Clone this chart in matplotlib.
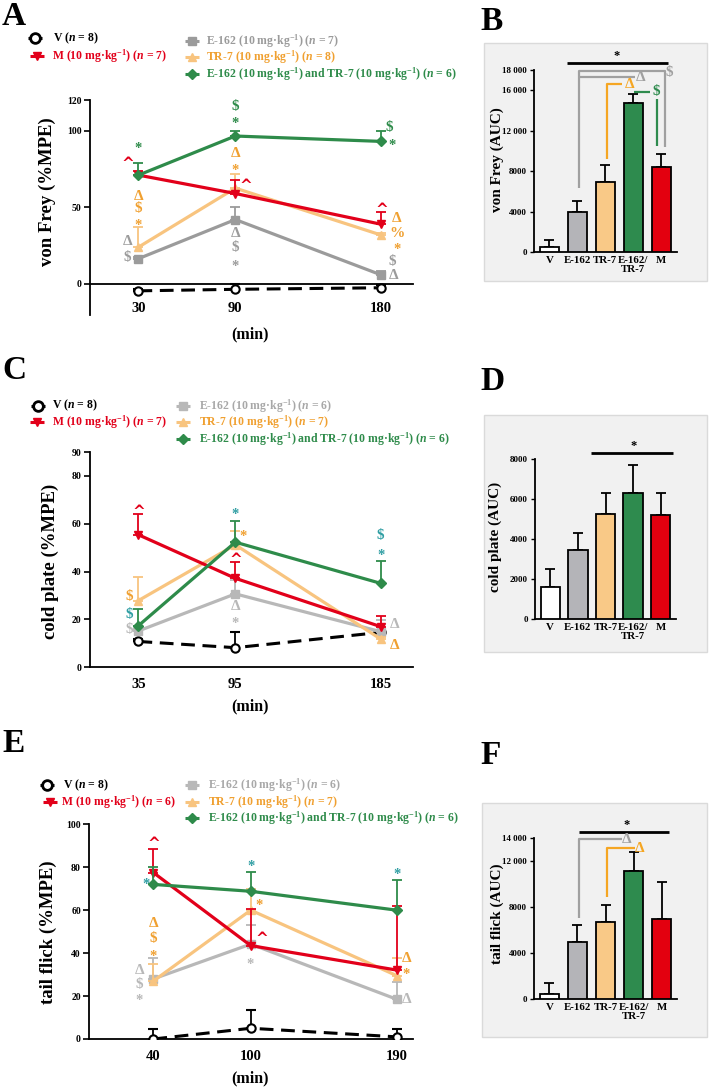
import matplotlib
matplotlib.use('Agg')
import matplotlib.pyplot as plt
from matplotlib.patches import Rectangle
import numpy as np

plt.rcParams['font.family'] = ['Liberation Serif', 'DejaVu Serif']
plt.rcParams['font.weight'] = 'bold'
plt.rcParams['mathtext.fontset'] = 'custom'
plt.rcParams['mathtext.rm'] = 'Liberation Serif:bold'
plt.rcParams['mathtext.it'] = 'Liberation Serif:italic:bold'
plt.rcParams['mathtext.bf'] = 'Liberation Serif:bold'
plt.rcParams['axes.linewidth'] = 1.3

# ---------------- data ----------------
times_A = [30, 90, 180]
vf_V = [-4.5, -3.5, -2.5];   vf_V_err = [1.0, 3.5, 1.5]
vf_M = [71, 59, 39];         vf_M_err = [3, 9, 8]
vf_E = [16.5, 42, 6];        vf_E_err = [1, 8.5, 2.5]
vf_T = [24, 62.5, 32];       vf_T_err = [13, 9.5, 1.5]
vf_C = [71, 96.5, 93];       vf_C_err = [8, 3.5, 7]

times_C = [35, 95, 185]
cp_V = [10.8, 8.2, 14.6];    cp_V_err = [1, 6.7, 1]
cp_M = [55.4, 37.2, 17];     cp_M_err = [8.6, 7, 4.6]
cp_E = [15.2, 30.7, 14.9];   cp_E_err = [1, 5.8, 5]
cp_T = [27.9, 51.2, 11.8];   cp_T_err = [9.8, 5.8, 1]
cp_C = [17.4, 52.3, 35.1];   cp_C_err = [7, 9, 9.5]

times_E = [40, 100, 190]
tf_V = [0, 5, 1];            tf_V_err = [4.8, 8.4, 3.5]
tf_M = [77.5, 43.5, 32.1];   tf_M_err = [11, 17.2, 30]
tf_E = [28, 44.2, 18.5];     tf_E_err = [9.6, 8.8, 7.9]
tf_T = [27, 60, 29.5];       tf_T_err = [8, 10, 8.4]
tf_C = [72, 68.8, 60];       tf_C_err = [8.3, 9.2, 14]

bar_groups = ['V', 'E-162', 'TR-7', 'E-162/\nTR-7', 'M']
auc_vf = [450, 3950, 6950, 14700, 8400];   auc_vf_err = [770, 1090, 1620, 930, 1290]
auc_cp = [1600, 3480, 5280, 6300, 5220];   auc_cp_err = [900, 840, 1060, 1420, 1110]
auc_tf = [430, 4990, 6670, 11110, 6950];   auc_tf_err = [1010, 1470, 1470, 1620, 3210]

legend_A = ['V ($n$ = 8)', 'M (10 mg·kg$^{-1}$) ($n$ = 7)', 'E-162 (10 mg·kg$^{-1}$) ($n$ = 7)',
            'TR-7 (10 mg·kg$^{-1}$) ($n$ = 8)', 'E-162 (10 mg·kg$^{-1}$) and TR-7 (10 mg·kg$^{-1}$) ($n$ = 6)']
legend_C = ['V ($n$ = 8)', 'M (10 mg·kg$^{-1}$) ($n$ = 7)', 'E-162 (10 mg·kg$^{-1}$) ($n$ = 6)',
            'TR-7 (10 mg·kg$^{-1}$) ($n$ = 7)', 'E-162 (10 mg·kg$^{-1}$) and TR-7 (10 mg·kg$^{-1}$) ($n$ = 6)']
legend_E = ['V ($n$ = 8)', 'M (10 mg·kg$^{-1}$) ($n$ = 6)', 'E-162 (10 mg·kg$^{-1}$) ($n$ = 6)',
            'TR-7 (10 mg·kg$^{-1}$) ($n$ = 7)', 'E-162 (10 mg·kg$^{-1}$) and TR-7 (10 mg·kg$^{-1}$) ($n$ = 6)']

# significance annotations (x, y, symbol, colour key)
ann_A = [(30, 91, '*', 'green'), (23.5, 81, '^', 'red'),
         (30, 57, 'Δ', 'orange'), (30, 49, r'\$', 'orange'), (30, 41, '*', 'orange'),
         (23, 28, 'Δ', 'grey'), (23, 17, r'\$', 'grey'),
         (90, 116, r'\$', 'green'), (90, 107.5, '*', 'green'),
         (90, 85, 'Δ', 'orange'), (90, 77, '*', 'orange'), (96.5, 67, '^', 'red'),
         (90, 33, 'Δ', 'grey'), (90, 24, r'\$', 'grey'), (90, 14, '*', 'grey'),
         (185, 102, r'\$', 'green'), (187, 93, '*', 'green'), (181, 51, '^', 'red'),
         (190, 42.5, 'Δ', 'orange'), (190, 33, '%', 'orange'), (190, 25, '*', 'orange'),
         (187, 14.6, r'\$', 'grey'), (188, 5.4, 'Δ', 'grey')]
ann_C = [(35, 67, '^', 'red'),
         (29.6, 29.5, r'\$', 'orange'), (29.6, 21.9, r'\$', 'teal'), (29.6, 15.6, r'\$', 'grey'),
         (95, 65.5, '*', 'teal'), (100, 56.3, '*', 'orange'), (95, 46.7, '^', 'red'),
         (95, 25.4, 'Δ', 'grey'), (95, 20.2, '*', 'grey'),
         (185, 55, r'\$', 'teal'), (185, 48.4, '*', 'teal'),
         (193.6, 17.7, 'Δ', 'grey'), (193.6, 9.3, 'Δ', 'orange')]
ann_E = [(40, 93, '^', 'red'), (35.3, 74, '*', 'teal'),
         (40, 53.9, 'Δ', 'orange'), (40, 46.9, r'\$', 'orange'), (40, 40.2, '*', 'orange'),
         (31.4, 32, 'Δ', 'grey'), (31.4, 25.6, r'\$', 'grey'), (31.4, 19.7, '*', 'grey'),
         (100, 82.3, '*', 'teal'), (105.4, 64, '*', 'orange'), (106.9, 48.8, '^', 'red'),
         (99.7, 36.8, '*', 'grey'),
         (190, 78.4, '*', 'teal'), (195.8, 37.6, 'Δ', 'orange'), (195.8, 31.8, '*', 'orange'),
         (195.8, 18.2, 'Δ', 'grey')]

sig_B_lines = [([0.63, 4.24], [18660, 18660], 'black'),
               ([1.07, 1.07, 4.14, 4.14], [6300, 17930, 17930, 10400], 'grey'),
               ([1.07, 3.07], [17270, 17270], 'grey'),
               ([2.06, 2.06, 2.6], [9170, 16580, 16580], 'orange'),
               ([3.04, 3.6], [15850, 15850], 'green'),
               ([3.86, 3.86], [15130, 10480], 'green')]
sig_B_text = [(2.4, 19400, '*', 'black'), (4.28, 17800, r'\$', 'grey'), (3.26, 17270, 'Δ', 'grey'),
              (2.88, 16580, 'Δ', 'orange'), (3.83, 15850, r'\$', 'green')]
sig_D_lines = [([1.49, 4.43], [8300, 8300], 'black')]
sig_D_text = [(3.0, 8650, '*', 'black')]
sig_F_lines = [([1.06, 4.25], [14510, 14510], 'black'),
               ([1.04, 1.04, 2.58], [7070, 13860, 13860], 'grey'),
               ([2.05, 2.05, 3.06], [8830, 13070, 13070], 'orange')]
sig_F_text = [(2.74, 15050, '*', 'black'), (2.76, 13860, 'Δ', 'grey'), (3.2, 13070, 'Δ', 'orange')]

# ---------------- style ----------------
RED = '#e2001a'
GREEN = '#2e8b4a'
ORANGE_LINE = '#f8c47f'
ORANGE_TXT = '#f0a030'
TEAL = '#2f9ea3'
GREY_A = '#9b9b9b'
GREY_L = '#b8b8b8'
BAR_COLORS = ['white', '#b4b4b8', '#f9c987', '#2e8b4e', '#e3000f']

W, H = 709, 1088
fig = plt.figure(figsize=(W / 100, H / 100), dpi=100)


def px_axes(x0, y0, x1, y1):
    return fig.add_axes([x0 / W, 1 - y1 / H, (x1 - x0) / W, (y1 - y0) / H])


ov = px_axes(0, 0, W, H)
ov.set_xlim(0, W)
ov.set_ylim(H, 0)
ov.axis('off')
ov.set_zorder(0)


def line_panel(rect, times, series, xlim, ylim, yticks, grey, ann, teal, xpad, zero_spine):
    ax = px_axes(*rect)
    ax.set_zorder(2)
    ax.set_facecolor('none')
    V, Ve, M, Me, E, Ee, T, Te, C, Ce = series
    t = np.array(times, dtype=float)
    z = np.zeros(3)
    ax.plot(t, V, color='black', lw=2.2, dashes=(4.5, 2.5), zorder=3)
    ax.errorbar(t, V, yerr=[z, Ve], fmt='o', color='black', mfc='white', mec='black', ms=6,
                mew=1.5, capsize=3.5, elinewidth=1.3, capthick=1.3, zorder=4)
    for vals, errs, col, mk, ms, zo in [(E, Ee, grey, 's', 6, 5), (T, Te, ORANGE_LINE, '^', 6, 6),
                                        (M, Me, RED, 'v', 6, 7), (C, Ce, GREEN, 'D', 5, 8)]:
        ax.errorbar(t, vals, yerr=[z, errs], fmt='-' + mk, color=col, ms=ms, lw=2.3,
                    capsize=3.5, elinewidth=1.3, capthick=1.3, zorder=zo)
    ax.set_xlim(*xlim)
    ax.set_ylim(*ylim)
    for s in ['top', 'right']:
        ax.spines[s].set_visible(False)
    if zero_spine:
        ax.spines['bottom'].set_position(('data', 0))
    ax.set_xticks(times)
    ax.set_xticklabels([str(v) for v in times], fontsize=10.5, fontweight='bold')
    ax.tick_params(axis='x', length=0, pad=xpad)
    ax.set_yticks(yticks)
    ax.set_yticklabels([str(v) for v in yticks], fontsize=7, fontweight='bold')
    ax.tick_params(axis='y', length=4, width=1.2, pad=2)
    cmap = {'red': RED, 'green': GREEN, 'orange': ORANGE_TXT, 'grey': grey, 'teal': teal}
    for x, y, s, c in ann:
        dy = 0
        fs = 11
        fam = ['Liberation Serif']
        if s == '*':
            dy, fs = -3, 10.5
        elif s == '^':
            dy, fs, fam = -3, 11, ['DejaVu Sans']
        ax.annotate(s, (x, y), xytext=(0, dy), textcoords='offset points', ha='center', va='center',
                    color=cmap[c], fontsize=fs, fontweight='bold', family=fam,
                    annotation_clip=False, zorder=10)
    return ax


def bar_panel(rect, vals, errs, ylim, yticks, yticklabels, lines, texts):
    ax = px_axes(*rect)
    ax.set_zorder(2)
    ax.set_facecolor('none')
    x = np.arange(len(vals))
    ax.bar(x, vals, width=0.7, color=BAR_COLORS, edgecolor='black', linewidth=1.3, zorder=3)
    ax.errorbar(x, vals, yerr=[np.zeros(len(vals)), errs], fmt='none', ecolor='black',
                elinewidth=1.3, capsize=3.5, capthick=1.3, zorder=2)
    ax.set_xlim(-0.55, 4.55)
    ax.set_ylim(*ylim)
    for s in ['top', 'right']:
        ax.spines[s].set_visible(False)
    ax.set_xticks(x)
    ax.set_xticklabels(bar_groups, fontsize=7.8, fontweight='bold', linespacing=1.0)
    ax.tick_params(axis='x', length=0, pad=3)
    ax.set_yticks(yticks)
    ax.set_yticklabels(yticklabels, fontsize=6.5, fontweight='bold')
    ax.tick_params(axis='y', length=3, width=1.0, pad=2)
    cmap = {'black': 'black', 'grey': '#a0a0a0', 'orange': '#f5a623', 'green': '#2e8b4e'}
    for xs, ys, c in lines:
        ax.plot(xs, ys, color=cmap[c], lw=2.0 if c == 'black' else 1.6, clip_on=False, zorder=4,
                solid_capstyle='butt')
    for xx, yy, s, c in texts:
        fs = 9 if s == '*' else 11
        ax.text(xx, yy, s, color=cmap[c], fontsize=fs, fontweight='bold', ha='center', va='center',
                clip_on=False, zorder=5)
    return ax


def legend(rows, texts, grey_txt, grey_mk):
    specs = [('black', 'o', 'black'), (RED, 'v', RED), (grey_mk, 's', grey_txt),
             (ORANGE_LINE, '^', ORANGE_TXT), (GREEN, 'D', GREEN)]
    for (xm, y, xt), txt, (mc, mk, tc) in zip(rows, texts, specs):
        ov.plot([xm - 7, xm + 7], [y, y], color=mc, lw=2.2, solid_capstyle='butt')
        if mk == 'o':
            ov.plot(xm, y, marker='o', mfc='white', mec='black', mew=2, ms=7)
        else:
            ov.plot(xm, y, marker=mk, color=mc, ms=6 if mk != 'D' else 5)
        ov.text(xt, y, txt, color=tc, fontsize=8.5, fontweight='bold', ha='left', va='center')


# background boxes for bar panels
for (x0, y0, x1, y1) in [(484, 43, 707, 281), (484, 415, 707, 652), (482, 803, 707, 1037)]:
    ov.add_patch(Rectangle((x0, y0), x1 - x0, y1 - y0, facecolor='#f1f1f1', edgecolor='#dadada', lw=1.0))

# panel letters
for (x, y, s) in [(2, 1, 'A'), (2, 355, 'C'), (2, 728, 'E'), (480, 6, 'B'), (480, 366, 'D'), (480, 740, 'F')]:
    ov.text(x, y, s, fontsize=24, fontweight='bold', ha='left', va='top')

# legends
legend([(35, 38, 53), (37, 56, 52), (191.7, 41, 205.7), (191.7, 57, 205.7), (191.7, 74, 205.7)],
       legend_A, GREY_A, GREY_A)
legend([(37.7, 405.7, 52), (37, 422.3, 52), (182.7, 406, 199), (182.7, 422.3, 199), (182.7, 439, 199)],
       legend_C, '#a8a8a8', GREY_L)
legend([(46.7, 785, 63), (50, 802.3, 61), (192.3, 785, 208.3), (192.3, 802.3, 208.3), (192.3, 818.3, 208.3)],
       legend_E, '#a8a8a8', GREY_L)

# line panels
line_panel((90, 100, 413, 314.6), times_A,
           (vf_V, vf_V_err, vf_M, vf_M_err, vf_E, vf_E_err, vf_T, vf_T_err, vf_C, vf_C_err),
           (0, 200), (-20, 120), [0, 50, 100, 120], GREY_A, ann_A, GREEN, 13, True)
line_panel((90, 452, 413, 667.3), times_C,
           (cp_V, cp_V_err, cp_M, cp_M_err, cp_E, cp_E_err, cp_T, cp_T_err, cp_C, cp_C_err),
           (5, 205), (0, 90), [0, 20, 40, 60, 80, 90], GREY_L, ann_C, TEAL, 8, False)
line_panel((89.3, 824.3, 413, 1039), times_E,
           (tf_V, tf_V_err, tf_M, tf_M_err, tf_E, tf_E_err, tf_T, tf_T_err, tf_C, tf_C_err),
           (0.5, 200), (0, 100), [0, 20, 40, 60, 80, 100], GREY_L, ann_E, TEAL, 8, False)

# bar panels
bar_panel((534, 70, 676.7, 252), auc_vf, auc_vf_err, (0, 18000),
          [0, 4000, 8000, 12000, 16000, 18000], ['0', '4000', '8000', '12 000', '16 000', '18 000'],
          sig_B_lines, sig_B_text)
bar_panel((535, 459.3, 676, 619.3), auc_cp, auc_cp_err, (0, 8000),
          [0, 2000, 4000, 6000, 8000], ['0', '2000', '4000', '6000', '8000'],
          sig_D_lines, sig_D_text)
bar_panel((534, 837.6, 677, 999.3), auc_tf, auc_tf_err, (0, 14000),
          [0, 4000, 8000, 12000, 14000], ['0', '4000', '8000', '12 000', '14 000'],
          sig_F_lines, sig_F_text)

# axis titles
for (x, y, s, fs) in [(47, 192, 'von Frey (%MPE)', 13.5), (50, 561, 'cold plate (%MPE)', 13.5),
                      (48, 932, 'tail flick (%MPE)', 13.5),
                      (497, 160, 'von Frey (AUC)', 11), (495, 537, 'cold plate (AUC)', 11),
                      (497, 914, 'tail flick (AUC)', 11)]:
    ov.text(x, y, s, rotation=90, fontsize=fs, fontweight='bold', ha='center', va='center')
for (x, y) in [(250, 334), (250, 706), (250, 1078)]:
    ov.text(x, y, '(min)', fontsize=11.5, fontweight='bold', ha='center', va='center')

fig.savefig('out.png', dpi=100)
